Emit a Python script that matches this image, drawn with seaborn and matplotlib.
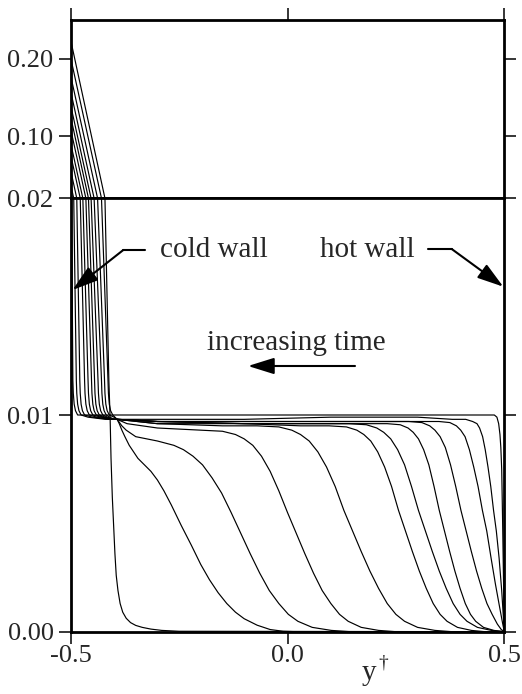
import numpy as np
import pandas as pd
import matplotlib
matplotlib.use("Agg")
import matplotlib.pyplot as plt
from matplotlib.lines import Line2D
from matplotlib.patches import FancyArrowPatch
import seaborn as sns

# ---------------- data ----------------
# Profiles vs y-dagger at successive times (T1 earliest ... T12 latest)
T1_x = [-0.5, -0.498, -0.495, -0.494, -0.492, -0.489, -0.484, -0.45, -0.40, -0.30, -0.10, 0.10, 0.30, 0.45, 0.477,
        0.483, 0.487, 0.490, 0.492, 0.494, 0.496, 0.498, 0.4995, 0.5]
T1_v = [0.025, 0.020, 0.0116, 0.0110, 0.0105, 0.0102, 0.0100, 0.0100, 0.0100, 0.0100, 0.0100, 0.0100, 0.0100, 0.0100, 0.0100,
        0.0099, 0.0096, 0.0091, 0.0085, 0.0075, 0.0052, 0.0026, 0.0008, 0.0]

T2_x = [-0.5, -0.493, -0.487, -0.486, -0.484, -0.481, -0.476, -0.46, -0.42, -0.393, -0.30, -0.10, 0.10, 0.30, 0.38,
        0.411, 0.427, 0.437, 0.443, 0.450, 0.456, 0.4624, 0.4688, 0.4752, 0.4816, 0.488, 0.494, 0.5]
T2_v = [0.038, 0.020, 0.0116, 0.0110, 0.0105, 0.0102, 0.0100, 0.0099, 0.0098, 0.0098, 0.0098, 0.0098, 0.0099, 0.0099, 0.0098,
        0.0098, 0.0097, 0.0096, 0.0094, 0.0090, 0.0084, 0.0076, 0.0067, 0.0056, 0.00465, 0.0034, 0.0019, 0.0]

T3_x = [-0.5, -0.486, -0.479, -0.478, -0.476, -0.473, -0.468, -0.45, -0.41, -0.393, -0.30, -0.10, 0.10, 0.30,
        0.3495, 0.3745, 0.3895, 0.3995, 0.4095, 0.4195, 0.4295, 0.4395, 0.4495, 0.4595, 0.4695, 0.4795, 0.4895, 0.496, 0.5]
T3_v = [0.056, 0.020, 0.0116, 0.0110, 0.0105, 0.0102, 0.0100, 0.0099, 0.0098, 0.0098, 0.0097, 0.0097, 0.0097, 0.0097,
        0.0097, 0.00965, 0.0095, 0.0093, 0.0090, 0.0084, 0.0076, 0.0067, 0.0056, 0.00465, 0.0034, 0.0022, 0.0011, 0.0004, 0.0]

T4_x = [-0.5, -0.478, -0.468, -0.467, -0.465, -0.462, -0.457, -0.44, -0.41, -0.393, -0.30, -0.10, 0.10, 0.20,
        0.280, 0.310, 0.328, 0.340, 0.352, 0.364, 0.376, 0.388, 0.400, 0.412, 0.424, 0.436, 0.448, 0.460, 0.472, 0.484, 0.493, 0.5]
T4_v = [0.076, 0.020, 0.0116, 0.0110, 0.0105, 0.0102, 0.0100, 0.0099, 0.0098, 0.0098, 0.0097, 0.0097, 0.0097, 0.0097,
        0.0097, 0.00965, 0.0095, 0.0093, 0.0090, 0.0085, 0.0077, 0.0067, 0.0056, 0.00465, 0.0037, 0.0028, 0.0020, 0.0013, 0.0008, 0.00035, 0.0001, 0.0]

T5_x = [-0.5, -0.472, -0.460, -0.459, -0.457, -0.454, -0.449, -0.43, -0.405, -0.393, -0.30, -0.10, 0.10, 0.18,
        0.230, 0.260, 0.278, 0.290, 0.302, 0.314, 0.326, 0.338, 0.350, 0.362, 0.374, 0.386, 0.398, 0.410, 0.422, 0.434, 0.452, 0.476, 0.5]
T5_v = [0.091, 0.020, 0.0116, 0.0110, 0.0105, 0.0102, 0.0100, 0.0099, 0.0098, 0.0098, 0.0097, 0.0096, 0.0096, 0.0096,
        0.0096, 0.00955, 0.0094, 0.0092, 0.0089, 0.0084, 0.0077, 0.0067, 0.0056, 0.00465, 0.0037, 0.0028, 0.0020, 0.0013, 0.0008, 0.00048, 0.0002, 0.00006, 0.0]

T6_x = [-0.5, -0.465, -0.452, -0.451, -0.449, -0.446, -0.441, -0.425, -0.405, -0.393, -0.30, -0.10, 0.05,
        0.142, 0.182, 0.206, 0.222, 0.238, 0.254, 0.270, 0.286, 0.302, 0.318, 0.334, 0.350, 0.366, 0.382, 0.398, 0.414, 0.438, 0.470, 0.5]
T6_v = [0.109, 0.020, 0.0116, 0.0110, 0.0105, 0.0102, 0.0100, 0.0099, 0.0098, 0.0098, 0.0097, 0.0096, 0.0096,
        0.0096, 0.00955, 0.0094, 0.0092, 0.0089, 0.0084, 0.0077, 0.0067, 0.0056, 0.00465, 0.0037, 0.0028, 0.0020, 0.0013, 0.0008, 0.00048, 0.0002, 0.00006, 0.0]

T7_x = [-0.5, -0.459, -0.445, -0.444, -0.442, -0.439, -0.434, -0.42, -0.405, -0.393, -0.30, -0.10, 0.03,
        0.096, 0.136, 0.160, 0.176, 0.192, 0.208, 0.224, 0.240, 0.256, 0.272, 0.288, 0.304, 0.320, 0.336, 0.352, 0.368, 0.392, 0.424, 0.456, 0.5]
T7_v = [0.125, 0.020, 0.0116, 0.0110, 0.0105, 0.0102, 0.0100, 0.0099, 0.0098, 0.0098, 0.0096, 0.0096, 0.0095,
        0.0095, 0.00945, 0.0093, 0.0091, 0.0088, 0.0083, 0.0076, 0.0067, 0.0056, 0.00465, 0.0037, 0.0028, 0.0020, 0.0013, 0.0008, 0.00048, 0.0002, 0.00006, 0.0, 0.0]

T8_x = [-0.5, -0.453, -0.437, -0.436, -0.434, -0.431, -0.426, -0.415, -0.40, -0.393, -0.30, -0.15,
        -0.07, -0.02, 0.01, 0.03, 0.05, 0.07, 0.09, 0.11, 0.13, 0.15, 0.17, 0.19, 0.21, 0.23, 0.25, 0.27, 0.30, 0.34, 0.38, 0.5]
T8_v = [0.140, 0.020, 0.0116, 0.0110, 0.0105, 0.0102, 0.0100, 0.0099, 0.0098, 0.0098, 0.0096, 0.0095,
        0.0095, 0.00945, 0.0093, 0.0091, 0.0088, 0.0083, 0.0076, 0.0067, 0.0056, 0.00465, 0.0037, 0.0028, 0.0020, 0.0013, 0.0008, 0.00048, 0.0002, 0.00006, 0.0, 0.0]

T9_x = [-0.5, -0.446, -0.429, -0.428, -0.426, -0.423, -0.418, -0.41, -0.40, -0.393, -0.37, -0.30,
        -0.20, -0.15, -0.12, -0.10, -0.08, -0.06, -0.04, -0.02, 0.0, 0.02, 0.04, 0.06, 0.08, 0.10, 0.12, 0.14, 0.17, 0.21, 0.25, 0.5]
T9_v = [0.158, 0.020, 0.0116, 0.0110, 0.0105, 0.0102, 0.0100, 0.0099, 0.0098, 0.0098, 0.0096, 0.0094,
        0.0093, 0.00925, 0.0091, 0.0089, 0.0086, 0.0081, 0.0074, 0.0065, 0.0055, 0.00455, 0.0036, 0.0027, 0.0019, 0.0013, 0.0008, 0.00048, 0.0002, 0.00006, 0.0, 0.0]

T10_x = [-0.5, -0.438, -0.422, -0.421, -0.419, -0.416, -0.411, -0.40, -0.393, -0.382, -0.372, -0.35, -0.30,
         -0.262, -0.240, -0.218, -0.196, -0.174, -0.152, -0.130, -0.108, -0.086, -0.064, -0.042, -0.020, 0.002, 0.024, 0.057, 0.101, 0.145, 0.5]
T10_v = [0.178, 0.020, 0.0116, 0.0110, 0.0105, 0.0102, 0.0100, 0.0099, 0.0098, 0.0095, 0.0093, 0.0090, 0.0088,
         0.0086, 0.0084, 0.0081, 0.0077, 0.0071, 0.0064, 0.0055, 0.00455, 0.0036, 0.0027, 0.0019, 0.0013, 0.0008, 0.00048, 0.0002, 0.00006, 0.0, 0.0]

T11_x = [-0.5, -0.429, -0.414, -0.413, -0.411, -0.408, -0.403, -0.398, -0.393, -0.388, -0.382, -0.375, -0.365, -0.355,
         -0.345, -0.33, -0.315, -0.30, -0.285, -0.268, -0.245, -0.222, -0.20, -0.18, -0.16, -0.14, -0.12, -0.10,
         -0.07, -0.04, -0.01, 0.02, 0.5]
T11_v = [0.201, 0.020, 0.0116, 0.0110, 0.0105, 0.0102, 0.0100, 0.0099, 0.0098, 0.0096, 0.0093, 0.0090, 0.0086, 0.0083,
         0.0080, 0.0077, 0.0074, 0.0070, 0.0065, 0.00585, 0.0049, 0.0040, 0.0031, 0.0024, 0.0018, 0.0013, 0.0009, 0.0006,
         0.0003, 0.0001, 0.00002, 0.0, 0.0]

T12_x = [-0.5, -0.421, -0.412, -0.409, -0.407, -0.404, -0.401, -0.398, -0.395, -0.391, -0.386, -0.380, -0.372,
         -0.362, -0.35, -0.335, -0.315, -0.29, -0.25, 0.5]
T12_v = [0.224, 0.020, 0.0116, 0.0098, 0.0080, 0.0062, 0.0049, 0.0036, 0.0026, 0.0019, 0.0013, 0.0009, 0.00062,
         0.00042, 0.00029, 0.0002, 0.00012, 0.00006, 0.00002, 0.0]

curves_x = [T1_x, T2_x, T3_x, T4_x, T5_x, T6_x, T7_x, T8_x, T9_x, T10_x, T11_x, T12_x]
curves_v = [T1_v, T2_v, T3_v, T4_v, T5_v, T6_v, T7_v, T8_v, T9_v, T10_v, T11_v, T12_v]

x_ticks = [-0.5, 0.0, 0.5]
x_ticklabels = ["-0.5", "0.0", "0.5"]
top_yticks = [0.02, 0.10, 0.20]
top_yticklabels = ["0.02", "0.10", "0.20"]
bot_yticks = [0.00, 0.01]
bot_yticklabels = ["0.00", "0.01"]

rows = []
for i, (xs, vs) in enumerate(zip(curves_x, curves_v)):
    for x, v in zip(xs, vs):
        rows.append({"y_dagger": x, "value": v, "curve": i})
df = pd.DataFrame(rows)

# ---------------- style ----------------
sns.set_style("ticks")
plt.rcParams["font.family"] = ["Liberation Serif", "DejaVu Serif"]
plt.rcParams["axes.unicode_minus"] = False

W, H = 522, 694
fig = plt.figure(figsize=(W / 100, H / 100), dpi=100)

def fx(px):
    return px / W

def fy(py):
    return 1 - py / H

left, right = 70.7, 504.3
y_top, y_mid, y_bot = 20, 198.3, 631.7

ax_top = fig.add_axes([fx(left), fy(y_mid), fx(right) - fx(left), fy(y_top) - fy(y_mid)])
ax_bot = fig.add_axes([fx(left), fy(y_bot), fx(right) - fx(left), fy(y_mid) - fy(y_bot)])

for ax in (ax_top, ax_bot):
    sns.lineplot(data=df, x="y_dagger", y="value", units="curve", estimator=None,
                 sort=False, color="black", linewidth=0.85, legend=False, ax=ax)
    ax.set_xlim(-0.5, 0.5)
    ax.set_xlabel("")
    ax.set_ylabel("")
    for s in ax.spines.values():
        s.set_visible(True)
        s.set_linewidth(2.0)
        s.set_color("black")
    ax.set_facecolor("white")

ax_top.set_ylim(0.02, 0.25)
ax_bot.set_ylim(0.0, 0.02)

ax_top.set_yticks(top_yticks)
ax_top.set_yticklabels(top_yticklabels)
ax_bot.set_yticks(bot_yticks)
ax_bot.set_yticklabels(bot_yticklabels)

ax_top.set_xticks(x_ticks)
ax_bot.set_xticks(x_ticks)
ax_bot.set_xticklabels(x_ticklabels)

tick_kw = dict(direction="out", length=8.3, width=1.1, color="black", labelsize=19)
ax_top.tick_params(axis="y", left=True, right=True, labelleft=True, labelright=False, pad=4, **tick_kw)
ax_top.tick_params(axis="x", top=True, bottom=False, labeltop=False, labelbottom=False, **tick_kw)
ax_bot.tick_params(axis="y", left=True, right=True, labelleft=True, labelright=False, pad=4, **tick_kw)
ax_bot.tick_params(axis="x", top=False, bottom=True, labeltop=False, labelbottom=True, pad=1, **tick_kw)

# x label  y†
fig.text(fx(362), fy(680), "y", fontsize=21, ha="left", va="baseline")
fig.text(fx(378.5), fy(668), "\u2020", fontsize=14, ha="left", va="baseline")

# annotations
fs_ann = 21
fig.text(fx(160), fy(257), "cold wall", fontsize=fs_ann, ha="left", va="baseline")
fig.text(fx(320), fy(257), "hot wall", fontsize=fs_ann, ha="left", va="baseline")
fig.text(fx(207), fy(350), "increasing time", fontsize=fs_ann, ha="left", va="baseline")

arrow_kw = dict(arrowstyle="-|>,head_length=0.8,head_width=0.25", color="black",
                lw=1.5, shrinkA=0, shrinkB=0, mutation_scale=20)

fig.add_artist(Line2D([fx(145), fx(123.3)], [fy(250), fy(250)], color="black", lw=1.5))
fig.add_artist(Line2D([fx(428), fx(451.7)], [fy(249), fy(249)], color="black", lw=1.5))

fig.add_artist(FancyArrowPatch((fx(123.3), fy(250)), (fx(72.5), fy(290)),
                               transform=fig.transFigure, **arrow_kw))
fig.add_artist(FancyArrowPatch((fx(451.7), fy(249)), (fx(503.3), fy(286.7)),
                               transform=fig.transFigure, **arrow_kw))
fig.add_artist(FancyArrowPatch((fx(355), fy(366)), (fx(248), fy(366)),
                               transform=fig.transFigure, **arrow_kw))

fig.savefig("out.png", dpi=100, facecolor="white")
